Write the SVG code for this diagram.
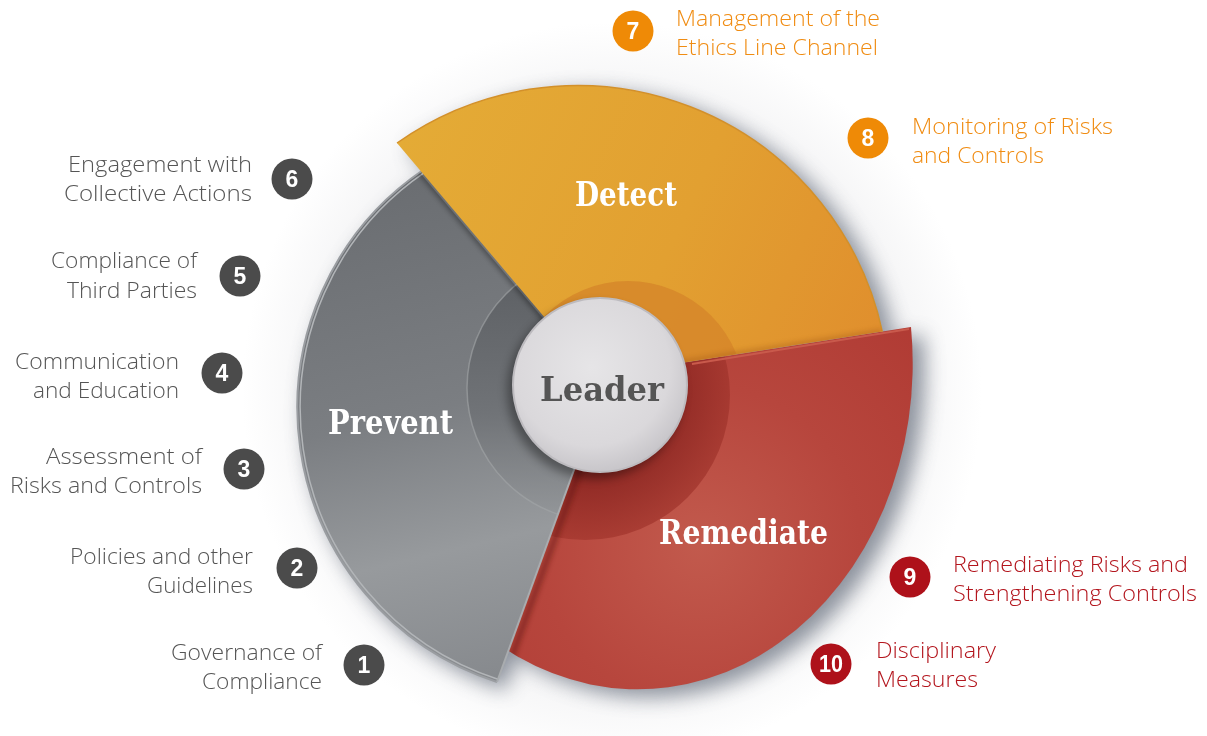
<svg xmlns="http://www.w3.org/2000/svg" width="1207" height="736" viewBox="0 0 1207 736">
  <defs>
    <style>
      .lbl{font-family:"Open Sans","Noto Sans","Liberation Sans",sans-serif;font-size:22.5px;font-weight:300}
      .end{text-anchor:end}
      .tg{fill:#555555}
      .to{fill:#f08c12}
      .tr{fill:#b3151d}
      .cg{fill:#4b4b4b}
      .co{fill:#ef8a06}
      .cr{fill:#ae111a}
      .num{font-family:"Liberation Sans",Arial,sans-serif;font-weight:bold;font-size:23px;fill:#ffffff;text-anchor:middle}
      .seg{font-family:"DejaVu Serif","Liberation Serif",serif;font-weight:bold;font-size:34px;text-anchor:middle}
    </style>
    <filter id="blurBig" x="-30%" y="-30%" width="160%" height="160%"><feGaussianBlur stdDeviation="10"/></filter>
    <filter id="blurMid" x="-30%" y="-30%" width="160%" height="160%"><feGaussianBlur stdDeviation="5"/></filter>
    <filter id="blurSmall" x="-30%" y="-30%" width="160%" height="160%"><feGaussianBlur stdDeviation="2.5"/></filter>
    <radialGradient id="haze" cx="612" cy="392" r="370" gradientUnits="userSpaceOnUse">
      <stop offset="0" stop-color="#efeff0"/>
      <stop offset="0.8" stop-color="#f5f5f6"/>
      <stop offset="1" stop-color="#ffffff"/>
    </radialGradient>
    <linearGradient id="gGray" x1="420" y1="170" x2="540" y2="680" gradientUnits="userSpaceOnUse">
      <stop offset="0" stop-color="#6a6d71"/>
      <stop offset="0.45" stop-color="#7b7e82"/>
      <stop offset="0.72" stop-color="#979a9d"/>
      <stop offset="1" stop-color="#85888c"/>
    </linearGradient>
    <linearGradient id="gGrayRing" x1="0" y1="0" x2="0" y2="1">
      <stop offset="0" stop-color="#55585c"/>
      <stop offset="0.6" stop-color="#6d7074"/>
      <stop offset="1" stop-color="#94979a"/>
    </linearGradient>
    <linearGradient id="gYellow" x1="400" y1="140" x2="880" y2="360" gradientUnits="userSpaceOnUse">
      <stop offset="0" stop-color="#e4ab36"/>
      <stop offset="0.55" stop-color="#e2a031"/>
      <stop offset="1" stop-color="#e08e2d"/>
    </linearGradient>
    <radialGradient id="gRed" cx="700" cy="545" r="320" gradientUnits="userSpaceOnUse">
      <stop offset="0" stop-color="#c25a4d"/>
      <stop offset="0.5" stop-color="#b7463d"/>
      <stop offset="1" stop-color="#b03a33"/>
    </radialGradient>
    <radialGradient id="gRedRing" cx="590" cy="395" r="150" gradientUnits="userSpaceOnUse">
      <stop offset="0.5" stop-color="#7f1d1a"/>
      <stop offset="1" stop-color="#a6382f"/>
    </radialGradient>
    <radialGradient id="gHub" cx="0.45" cy="0.4" r="0.6">
      <stop offset="0" stop-color="#e6e5e7"/>
      <stop offset="0.75" stop-color="#dad8db"/>
      <stop offset="1" stop-color="#c8c6ca"/>
    </radialGradient>
    <path id="shapeGray" d="M605,385 L497,682 A288,288 0 0 1 423,170 Z"/>
    <path id="shapeYellow" d="M594.3,376.3 L397,143 A312,312 0 0 1 882.3,331.6 Z"/>
    <path id="shapeRed" d="M600,376 L911,327 A275,326 0 0 1 482,632 Z"/>
    <clipPath id="clipGray"><path d="M605,385 L497,682 A288,288 0 0 1 423,170 Z"/></clipPath>
    <clipPath id="clipYellow"><path d="M594.3,376.3 L397,143 A312,312 0 0 1 882.3,331.6 Z"/></clipPath>
    <clipPath id="clipRed"><path d="M600,376 L911,327 A275,326 0 0 1 482,632 Z"/></clipPath>
  </defs>

  <rect width="1207" height="736" fill="#ffffff"/>
  <circle cx="612" cy="392" r="370" fill="url(#haze)"/>

  <!-- soft shadow cast by the whole wheel -->
  <g id="wheel-shadow" filter="url(#blurBig)" opacity="0.75" fill="#6b7280">
    <use href="#shapeGray" transform="translate(8,8)"/>
    <use href="#shapeYellow" transform="translate(12,6)"/>
    <use href="#shapeRed" transform="translate(12,8)"/>
  </g>

  <!-- Remediate segment -->
  <g id="node-remediate">
    <use href="#shapeRed" fill="url(#gRed)"/>
    <circle cx="585" cy="395" r="145" fill="url(#gRedRing)" opacity="0.75" clip-path="url(#clipRed)"/>
    <line x1="692" y1="364" x2="909" y2="329" stroke="#c95a4c" stroke-width="2"/>
    <line x1="502" y1="684" x2="610" y2="387" stroke="#5a1210" stroke-width="6" opacity="0.45" filter="url(#blurSmall)" clip-path="url(#clipRed)"/>
    <text class="seg" x="743.5" y="544" fill="#ffffff" textLength="169" lengthAdjust="spacingAndGlyphs">Remediate</text>
  </g>

  <!-- Prevent segment -->
  <g id="node-prevent">
    <use href="#shapeGray" fill="url(#gGray)"/>
    <circle cx="600" cy="388" r="133" fill="url(#gGrayRing)" opacity="0.8" clip-path="url(#clipGray)"/>
    <circle cx="600" cy="388" r="133" fill="none" stroke="#a3a6a9" stroke-width="1.5" opacity="0.6" clip-path="url(#clipGray)"/>
    <path d="M497,682 A288,288 0 0 1 423,170" fill="none" stroke="#9a9da1" stroke-width="2"/>
    <path d="M497,682 A288,288 0 0 1 423,170" fill="none" stroke="#b2b5b8" stroke-width="1.5" transform="translate(584,409) scale(0.99) translate(-584,-409)"/>
    <line x1="497" y1="682" x2="603" y2="390" stroke="#a9acaf" stroke-width="2"/>
    <text class="seg" x="390.5" y="434" fill="#ffffff" textLength="125" lengthAdjust="spacingAndGlyphs">Prevent</text>
  </g>

  <!-- Detect segment -->
  <g id="node-detect">
    <use href="#shapeYellow" fill="#000000" opacity="0.3" filter="url(#blurSmall)" transform="translate(-3,3)" clip-path="url(#clipGray)"/>
    <use href="#shapeYellow" fill="url(#gYellow)"/>
    <circle cx="628" cy="398" r="117" fill="#d4842a" opacity="0.75" clip-path="url(#clipYellow)"/>
    <path d="M397,143 A312,312 0 0 1 882.3,331.6" fill="none" stroke="#d3902a" stroke-width="1.5"/>
    <line x1="594" y1="376" x2="882" y2="331.6" stroke="#9c5418" stroke-width="6" opacity="0.35" filter="url(#blurSmall)" clip-path="url(#clipYellow)"/>
    <text class="seg" x="626" y="206" fill="#ffffff" textLength="102" lengthAdjust="spacingAndGlyphs">Detect</text>
  </g>

  <!-- central hub -->
  <g id="node-leader">
    <circle cx="595" cy="391" r="88" fill="#000000" opacity="0.35" filter="url(#blurMid)"/>
    <circle cx="600" cy="385" r="87" fill="url(#gHub)" stroke="#bdbbbf" stroke-width="2"/>
    <text class="seg" x="602" y="401" fill="#555555" textLength="124" lengthAdjust="spacingAndGlyphs">Leader</text>
  </g>

  <g id="connectors"/>

  <!-- numbered items, Prevent side -->
  <g id="item-1">
    <circle class="cg" cx="364" cy="665" r="20.5"/>
    <text class="num" x="364" y="673">1</text>
    <text class="lbl tg end" x="322" y="660" textLength="151" lengthAdjust="spacingAndGlyphs">Governance of</text>
    <text class="lbl tg end" x="322" y="689" textLength="120" lengthAdjust="spacingAndGlyphs">Compliance</text>
  </g>
  <g id="item-2">
    <circle class="cg" cx="297" cy="568" r="20.5"/>
    <text class="num" x="297" y="576">2</text>
    <text class="lbl tg end" x="253" y="564" textLength="183" lengthAdjust="spacingAndGlyphs">Policies and other</text>
    <text class="lbl tg end" x="253" y="593" textLength="106" lengthAdjust="spacingAndGlyphs">Guidelines</text>
  </g>
  <g id="item-3">
    <circle class="cg" cx="244" cy="469" r="20.5"/>
    <text class="num" x="244" y="477">3</text>
    <text class="lbl tg end" x="202" y="464" textLength="156" lengthAdjust="spacingAndGlyphs">Assessment of</text>
    <text class="lbl tg end" x="202" y="493" textLength="192" lengthAdjust="spacingAndGlyphs">Risks and Controls</text>
  </g>
  <g id="item-4">
    <circle class="cg" cx="222" cy="373" r="20.5"/>
    <text class="num" x="222" y="381">4</text>
    <text class="lbl tg end" x="179" y="369" textLength="164" lengthAdjust="spacingAndGlyphs">Communication</text>
    <text class="lbl tg end" x="179" y="398" textLength="146" lengthAdjust="spacingAndGlyphs">and Education</text>
  </g>
  <g id="item-5">
    <circle class="cg" cx="240" cy="276" r="20.5"/>
    <text class="num" x="240" y="284">5</text>
    <text class="lbl tg end" x="197" y="268" textLength="146" lengthAdjust="spacingAndGlyphs">Compliance of</text>
    <text class="lbl tg end" x="197" y="298" textLength="130" lengthAdjust="spacingAndGlyphs">Third Parties</text>
  </g>
  <g id="item-6">
    <circle class="cg" cx="292" cy="179" r="20.5"/>
    <text class="num" x="292" y="187">6</text>
    <text class="lbl tg end" x="252" y="172" textLength="184" lengthAdjust="spacingAndGlyphs">Engagement with</text>
    <text class="lbl tg end" x="252" y="201" textLength="188" lengthAdjust="spacingAndGlyphs">Collective Actions</text>
  </g>

  <!-- numbered items, Detect side -->
  <g id="item-7">
    <circle class="co" cx="633" cy="31" r="20.5"/>
    <text class="num" x="633" y="39">7</text>
    <text class="lbl to" x="676" y="26" textLength="204" lengthAdjust="spacingAndGlyphs">Management of the</text>
    <text class="lbl to" x="676" y="55" textLength="202" lengthAdjust="spacingAndGlyphs">Ethics Line Channel</text>
  </g>
  <g id="item-8">
    <circle class="co" cx="868" cy="138" r="20.5"/>
    <text class="num" x="868" y="146">8</text>
    <text class="lbl to" x="912" y="134" textLength="201" lengthAdjust="spacingAndGlyphs">Monitoring of Risks</text>
    <text class="lbl to" x="912" y="163" textLength="132" lengthAdjust="spacingAndGlyphs">and Controls</text>
  </g>

  <!-- numbered items, Remediate side -->
  <g id="item-9">
    <circle class="cr" cx="910" cy="577" r="20.5"/>
    <text class="num" x="910" y="585">9</text>
    <text class="lbl tr" x="953" y="572" textLength="235" lengthAdjust="spacingAndGlyphs">Remediating Risks and</text>
    <text class="lbl tr" x="953" y="601" textLength="244" lengthAdjust="spacingAndGlyphs">Strengthening Controls</text>
  </g>
  <g id="item-10">
    <circle class="cr" cx="831" cy="664" r="20.5"/>
    <text class="num" x="831" y="672" textLength="24" lengthAdjust="spacingAndGlyphs">10</text>
    <text class="lbl tr" x="876" y="658" textLength="120" lengthAdjust="spacingAndGlyphs">Disciplinary</text>
    <text class="lbl tr" x="876" y="687" textLength="102" lengthAdjust="spacingAndGlyphs">Measures</text>
  </g>
</svg>
